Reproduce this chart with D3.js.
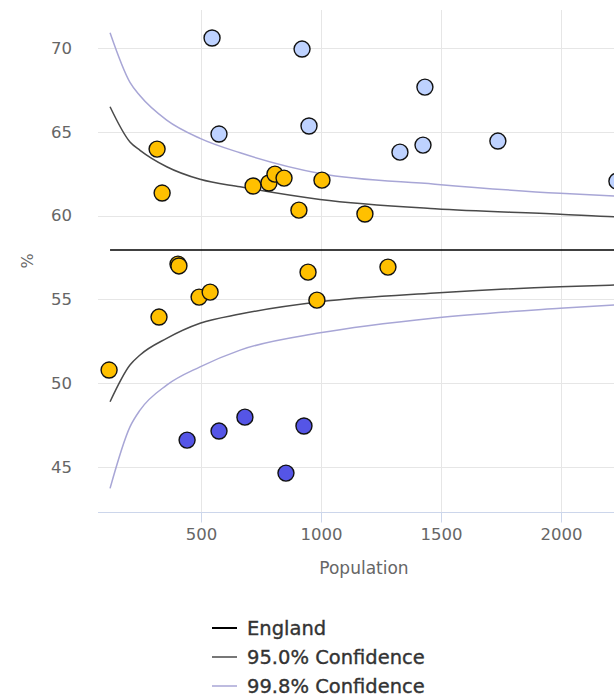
<!DOCTYPE html>
<html>
<head>
<meta charset="utf-8">
<script src="https://cdn.jsdelivr.net/npm/d3@7"></script>
<style>
  html, body { margin: 0; padding: 0; background: #fff; overflow: hidden; }
  svg { display: block; font-family: "DejaVu Sans", "Lucida Grande", sans-serif; }
</style>
</head>
<body>
<svg id="chart" width="614" height="696"></svg>
<script>
// ---- Data ----
const higherPop = [546, 921, 575, 950, 1433, 1329, 1425, 1737, 2233];
const higherVal = [70.60, 69.94, 64.87, 65.35, 67.67, 63.79, 64.21, 64.45, 62.06];

const similarPop = [317, 338, 717, 783, 808, 846, 1004, 908, 1183, 404, 408, 946, 492, 538, 325, 117, 983, 1279];
const similarVal = [63.97, 61.35, 61.77, 61.95, 62.48, 62.24, 62.12, 60.33, 60.10, 57.11, 57.00, 56.63, 55.14, 55.44, 53.95, 50.79, 54.96, 56.93];

const lowerPop = [442, 575, 683, 929, 854];
const lowerVal = [46.61, 47.15, 47.98, 47.45, 44.64];

const englandValue = 57.95;
const limitPop   = [121, 204, 246, 357, 496, 663, 996, 1475, 1996, 2221, 2500];
const upper998   = [70.91, 67.95, 67.15, 65.70, 64.61, 63.75, 62.52, 61.88, 61.33, 61.17, 61.00];
const upper95    = [66.50, 64.40, 63.90, 62.92, 62.17, 61.72, 60.97, 60.41, 60.09, 59.93, 59.82];
const lower95    = [48.90, 51.09, 51.69, 52.68, 53.58, 54.13, 54.86, 55.38, 55.76, 55.86, 55.97];
const lower998   = [43.73, 47.40, 48.40, 49.89, 50.98, 51.98, 53.01, 53.90, 54.47, 54.67, 54.85];

const xTicks = [500, 1000, 1500, 2000];
const yTicks = [45, 50, 55, 60, 65, 70];
const legendLabels = ["England", "95.0% Confidence", "99.8% Confidence"];

// ---- Layout ----
const plot = { left: 98, right: 630, top: 10, bottom: 512 };
const xMin = 70.8, xMax = 2287.5;
const yMin = 42.32, yMax = 72.27;

const svg = d3.select("#chart");
const x = d3.scaleLinear().domain([xMin, xMax]).range([plot.left, plot.right]);
const y = d3.scaleLinear().domain([yMin, yMax]).range([plot.bottom, plot.top]);

const colors = { higher: "#BED2FF", similar: "#FFC000", lower: "#5555E6" };
const lineStyles = [
  { color: "#000000", width: 1.6 },
  { color: "#4a4a4a", width: 1.5 },
  { color: "#a8a6d6", width: 1.5 }
];

// grid
const grid = svg.append("g");
grid.selectAll("line.h").data(yTicks).join("line")
  .attr("x1", plot.left).attr("x2", plot.right)
  .attr("y1", d => Math.round(y(d)) + 0.5).attr("y2", d => Math.round(y(d)) + 0.5)
  .attr("stroke", "#e6e6e6").attr("stroke-width", 1);
grid.selectAll("line.v").data(xTicks).join("line")
  .attr("y1", plot.top).attr("y2", plot.bottom)
  .attr("x1", d => Math.round(x(d)) + 0.5).attr("x2", d => Math.round(x(d)) + 0.5)
  .attr("stroke", "#e6e6e6").attr("stroke-width", 1);

// x axis
const xAxis = d3.axisBottom(x).tickValues(xTicks).tickSize(10).tickPadding(6).tickFormat(d3.format("d"));
const gx = svg.append("g").attr("transform", `translate(0,${plot.bottom + 0.5})`).call(xAxis);
gx.select(".domain").attr("d", `M${plot.left},0H${plot.right}`).attr("stroke", "#ccd6eb");
gx.selectAll(".tick line").attr("stroke", "#ccd6eb");
gx.selectAll(".tick text").attr("fill", "#666").attr("font-size", 16.5)
  .attr("font-family", "DejaVu Sans, sans-serif");

// y axis
const yAxis = d3.axisLeft(y).tickValues(yTicks).tickSize(0).tickPadding(0);
const gy = svg.append("g").attr("transform", `translate(${plot.left - 26},0)`).call(yAxis);
gy.select(".domain").remove();
gy.selectAll(".tick text").attr("fill", "#666").attr("font-size", 16.5)
  .attr("font-family", "DejaVu Sans, sans-serif");

// axis titles
svg.append("text").attr("x", 364).attr("y", 574).attr("text-anchor", "middle")
  .attr("fill", "#666").attr("font-size", 17).text("Population");
svg.append("text").attr("transform", `translate(33,${(plot.top + plot.bottom) / 2}) rotate(-90)`)
  .attr("text-anchor", "middle").attr("fill", "#666").attr("font-size", 16).text("%");

// clip
svg.append("clipPath").attr("id", "clip").append("rect")
  .attr("x", plot.left).attr("y", plot.top)
  .attr("width", plot.right - plot.left).attr("height", plot.bottom - plot.top);

const lineGen = d3.line().x(d => x(d[0])).y(d => y(d[1])).curve(d3.curveMonotoneX);
const lines = svg.append("g").attr("clip-path", "url(#clip)");
const series = [
  { vals: limitPop.map(() => englandValue), style: lineStyles[0] },
  { vals: upper95, style: lineStyles[1] },
  { vals: lower95, style: lineStyles[1] },
  { vals: upper998, style: lineStyles[2] },
  { vals: lower998, style: lineStyles[2] }
];
series.forEach(s => {
  lines.append("path")
    .attr("d", lineGen(limitPop.map((p, i) => [p, s.vals[i]])))
    .attr("fill", "none").attr("stroke", s.style.color).attr("stroke-width", s.style.width);
});

// points
const pts = svg.append("g");
function drawPoints(pops, vals, color) {
  pts.selectAll(null).data(pops.map((p, i) => [p, vals[i]])).join("circle")
    .attr("cx", d => x(d[0])).attr("cy", d => y(d[1])).attr("r", 8)
    .attr("fill", color).attr("stroke", "#111").attr("stroke-width", 1.4);
}
drawPoints(higherPop, higherVal, colors.higher);
drawPoints(similarPop, similarVal, colors.similar);
drawPoints(lowerPop, lowerVal, colors.lower);

// legend
const lg = svg.append("g");
legendLabels.forEach((lab, i) => {
  const cy = 628 + i * 29;
  lg.append("line").attr("x1", 212).attr("x2", 237).attr("y1", cy).attr("y2", cy)
    .attr("stroke", lineStyles[i].color).attr("stroke-width", i === 0 ? 2 : 1.5);
  lg.append("text").attr("x", 247).attr("y", cy).attr("dy", "0.35em")
    .attr("fill", "#333").attr("stroke", "#333").attr("stroke-width", 0.35)
    .attr("font-size", 19.5).text(lab);
});
</script>
</body>
</html>
